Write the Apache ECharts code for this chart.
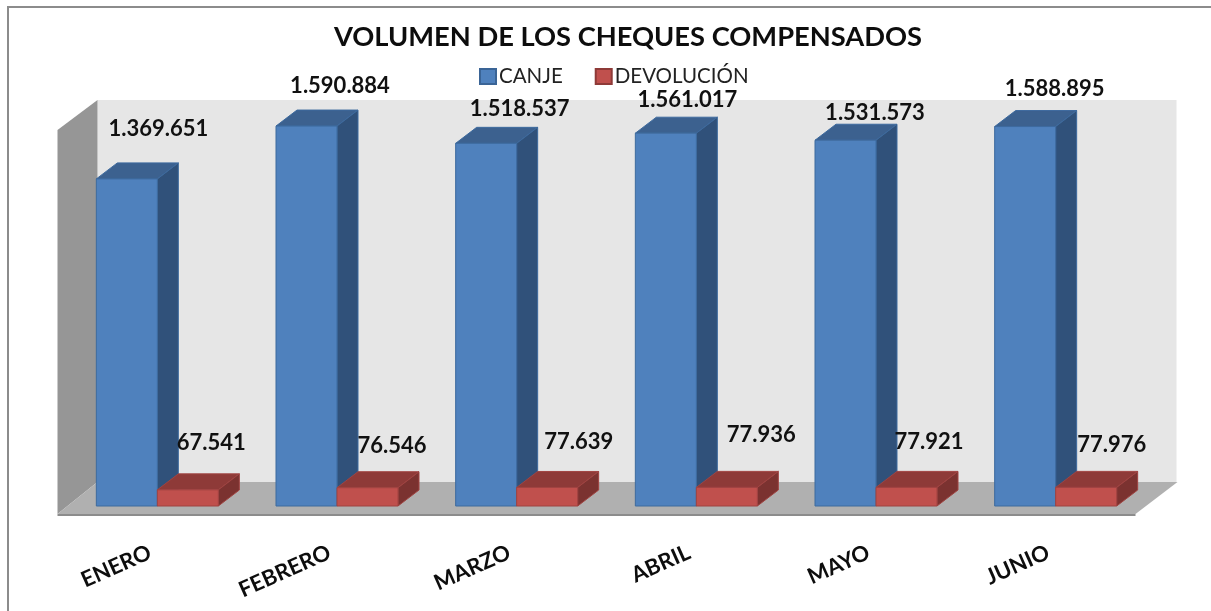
<!DOCTYPE html>
<html>
<head>
<meta charset="utf-8">
<style>
html, body { margin: 0; padding: 0; background: #fff; }
#main { width: 1211px; height: 611px; }
</style>
<script src="https://cdn.jsdelivr.net/npm/echarts@6/dist/echarts.min.js"></script>
</head>
<body>
<div id="main"></div>
<script>
var months = ["ENERO", "FEBRERO", "MARZO", "ABRIL", "MAYO", "JUNIO"];
var canje = [1369651, 1590884, 1518537, 1561017, 1531573, 1588895];
var devolucion = [67541, 76546, 77639, 77936, 77921, 77976];

// the labels were dragged by hand in the original, so each has its own shift
var canjeShift = [[1, -50], [3, -40], [3, -34], [-9, -33], [-1, -27], [-1, -38]];
var devolucionShift = [[-7, -47], [-6, -42], [1, -46], [4, -52], [-8, -45], [-5, -42]];

var BAR_W = 61, DEPTH_X = 21, DEPTH_Y = 16;

function fmt(v) {
    return String(v).replace(/\B(?=(\d{3})+(?!\d))/g, ".");
}

function poly(points, fill, stroke) {
    return {
        type: "polygon",
        shape: {points: points},
        style: {fill: fill, stroke: stroke, lineWidth: 1}
    };
}

// caja 3D: cara superior, lateral y frontal
function boxRender(side, colors, shift) {
    return function(params, api) {
        var i = api.value(0);
        var top = api.coord([i, api.value(1)]);
        var base = api.coord([i, 0]);
        var x0 = side < 0 ? top[0] - BAR_W : top[0];
        var x1 = x0 + BAR_W;
        var y0 = top[1], y1 = base[1];
        var s = shift[i];
        return {
            type: "group",
            children: [
                poly([[x0, y0], [x0 + DEPTH_X, y0 - DEPTH_Y], [x1 + DEPTH_X, y0 - DEPTH_Y], [x1, y0]], colors.top, colors.edge),
                poly([[x1, y0], [x1 + DEPTH_X, y0 - DEPTH_Y], [x1 + DEPTH_X, y1 - DEPTH_Y], [x1, y1]], colors.side, colors.edge),
                poly([[x0, y0], [x1, y0], [x1, y1], [x0, y1]], colors.front, colors.edge),
                {
                    type: "text",
                    z2: 50,
                    style: {
                        x: top[0] + s[0] + (side < 0 ? 0 : BAR_W),
                        y: y0 + s[1],
                        text: fmt(api.value(1)),
                        align: "center",
                        verticalAlign: "middle",
                        font: "bold 22px Lato",
                        fill: "#111"
                    }
                }
            ]
        };
    };
}

function wallsRender(params) {
    var c = params.coordSys;
    var l = c.x, r = c.x + c.width, t = c.y, b = c.y + c.height;
    return {
        type: "group",
        children: [
            {type: "polygon", shape: {points: [[l + 30, t], [r + 31, t], [r + 31, b - 24], [l + 30, b - 24]]}, style: {fill: "#e6e6e6"}},
            {type: "polygon", shape: {points: [[l - 10, t + 30], [l + 30, t], [l + 30, b - 24], [l - 10, b + 8]]}, style: {fill: "#969696"}},
            {type: "polygon", shape: {points: [[l - 10, b + 8], [l + 30, b - 24], [r + 32, b - 24], [r - 10, b + 8]]}, style: {fill: "#b0b0b0"}},
            {type: "polygon", shape: {points: [[l - 10, b + 8], [r - 10, b + 8], [r - 10, b + 10], [l - 10, b + 10]]}, style: {fill: "#8c8c8c"}}
        ]
    };
}

var chart = echarts.init(document.getElementById("main"));
chart.setOption({
    backgroundColor: "#fff",
    animation: false,
    title: {
        text: "VOLUMEN DE LOS CHEQUES COMPENSADOS",
        left: 329,
        top: 19,
        textStyle: {fontFamily: "Lato", fontWeight: "bold", fontSize: 27.3, color: "#0d0d0d"}
    },
    legend: {
        top: 61,
        left: 474,
        icon: "rect",
        itemWidth: 16,
        itemHeight: 15,
        itemGap: 32,
        data: ["CANJE", "DEVOLUCIÓN"],
        textStyle: {fontFamily: "Lato", fontSize: 20.5, color: "#222", padding: [0, 0, 0, -2]}
    },
    grid: {left: 67.5, right: 65.5, top: 100, bottom: 105},
    xAxis: {
        type: "category",
        data: months,
        axisLine: {show: false},
        axisTick: {show: false},
        axisLabel: {
            rotate: 24,
            margin: 42,
            padding: [0, 8, 0, 0],
            interval: 0,
            fontFamily: "Lato",
            fontWeight: "bold",
            fontSize: 22,
            color: "#0d0d0d"
        }
    },
    yAxis: {type: "value", min: 0, max: 1700000, show: false},
    series: [
        {
            type: "custom",
            silent: true,
            z: 1,
            renderItem: wallsRender,
            data: [[0]]
        },
        {
            name: "CANJE",
            type: "custom",
            z: 2,
            itemStyle: {color: "#4f81bd", borderColor: "#3a6496", borderWidth: 1},
            encode: {x: 0, y: 1},
            renderItem: boxRender(-1, {front: "#4f81bd", top: "#3c618f", side: "#30517a", edge: "#3d6a9e"}, canjeShift),
            data: canje.map(function(v, i) { return [i, v]; })
        },
        {
            name: "DEVOLUCIÓN",
            type: "custom",
            z: 3,
            itemStyle: {color: "#c0504d", borderColor: "#8e3a38", borderWidth: 1},
            encode: {x: 0, y: 1},
            renderItem: boxRender(1, {front: "#c0504d", top: "#8e3a38", side: "#7b3230", edge: "#a04341"}, devolucionShift),
            data: devolucion.map(function(v, i) { return [i, v]; })
        }
    ],
    graphic: [{
        type: "polyline",
        silent: true,
        shape: {points: [[8, 611], [8, 7], [1211, 7]]},
        style: {stroke: "#8c8c8c", lineWidth: 2, fill: null}
    }]
});
</script>
</body>
</html>
